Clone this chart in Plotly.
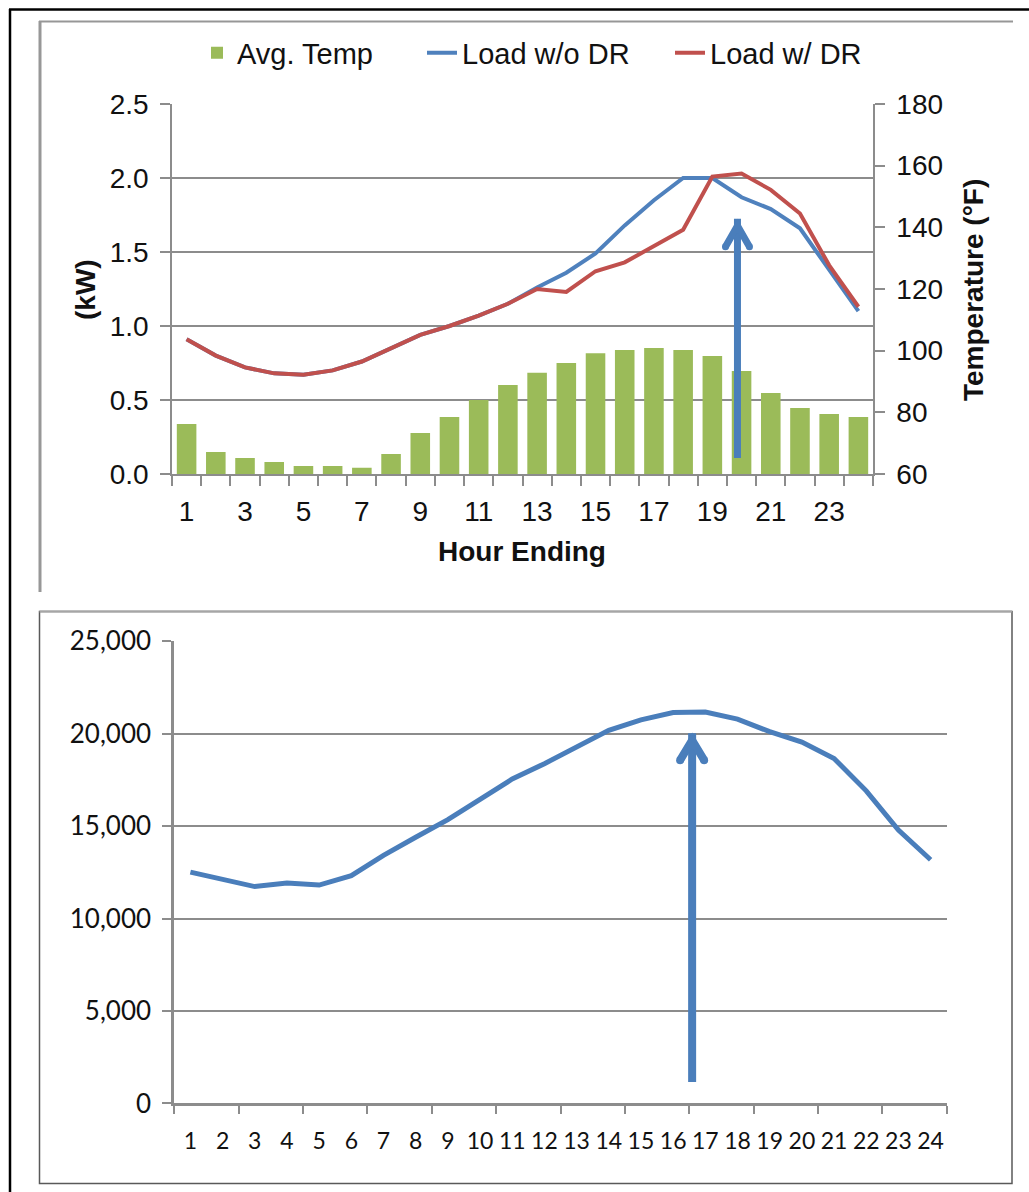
import plotly.graph_objects as go

# Hourly values (hour ending 1..24)
hours = list(range(1, 25))
odd_hour_ticks = list(range(1, 24, 2))

# Average temperature (°F), right axis of the upper chart
avg_temp = [76.2, 67.1, 65.2, 63.9, 62.6, 62.6, 62.0, 66.5, 73.3, 78.5, 84.0, 88.9,
            92.8, 96.0, 99.2, 100.2, 100.9, 100.2, 98.3, 93.4, 86.3, 81.4, 79.5, 78.5]

# Household load (kW) with and without demand response
load_without_dr = [0.91, 0.80, 0.72, 0.68, 0.67, 0.70, 0.76, 0.85, 0.94, 1.00, 1.07, 1.15,
                   1.26, 1.36, 1.49, 1.68, 1.85, 2.00, 2.00, 1.87, 1.79, 1.66, 1.38, 1.10]
load_with_dr = [0.91, 0.80, 0.72, 0.68, 0.67, 0.70, 0.76, 0.85, 0.94, 1.00, 1.07, 1.15,
                1.25, 1.23, 1.37, 1.43, 1.54, 1.65, 2.01, 2.03, 1.92, 1.76, 1.41, 1.13]

# System load, lower chart
system_load = [12510, 12150, 11730, 11920, 11810, 12320, 13420, 14400, 15350, 16450, 17550, 18380,
               19300, 20180, 20750, 21150, 21170, 20790, 20110, 19550, 18660, 16910, 14790, 13180]

# Peak markers (arrow positions)
top_arrow_hour, top_arrow_low, top_arrow_tip = 19.86, 0.108, 1.772
bottom_arrow_hour, bottom_arrow_low, bottom_arrow_tip = 16.59, 1160, 20180

W, H = 1029, 1192


def fx(px):
    return px / W


def fy(py):
    return 1 - py / H


GREEN = "#9BBB59"
BLUE = "#4F81BD"
RED = "#C0504D"
ARROW = "#4A7EBB"
GRID = "#8C8C8C"
TOP_FONT = "Liberation Sans, Arial, sans-serif"
BOTTOM_FONT = "Lato, Calibri, sans-serif"

fig = go.Figure()

fig.add_trace(go.Bar(x=hours, y=avg_temp, name="Avg. Temp",
                     marker=dict(color=GREEN, line=dict(width=0)),
                     xaxis="x", yaxis="y", legend="legend"))
fig.add_trace(go.Scatter(x=hours, y=load_without_dr, name="Load w/o DR", mode="lines",
                         line=dict(color=BLUE, width=4),
                         xaxis="x", yaxis="y2", legend="legend2"))
fig.add_trace(go.Scatter(x=hours, y=load_with_dr, name="Load w/ DR", mode="lines",
                         line=dict(color=RED, width=4),
                         xaxis="x", yaxis="y2", legend="legend3"))
fig.add_trace(go.Scatter(x=hours, y=system_load, mode="lines", showlegend=False,
                         line=dict(color=ARROW, width=5),
                         xaxis="x2", yaxis="y3"))

top_tick_font = dict(family=TOP_FONT, size=28, color="#111111")
bottom_ytick_font = dict(family=BOTTOM_FONT, size=26, color="#111111")
bottom_xtick_font = dict(family=BOTTOM_FONT, size=23, color="#111111")

fig.update_layout(
    width=W, height=H,
    margin=dict(l=0, r=0, t=0, b=0, autoexpand=False),
    paper_bgcolor="white", plot_bgcolor="white",
    bargap=0.33,
    xaxis=dict(domain=[fx(172), fx(873)], anchor="y", range=[0.5, 24.5],
               tickmode="array", tickvals=odd_hour_ticks, ticks="",
               tickfont=top_tick_font, ticklabelstandoff=12,
               showline=True, linecolor=GRID, linewidth=1.5, showgrid=False, zeroline=False,
               minor=dict(tickmode="array", tickvals=[h + 0.5 for h in range(0, 25)],
                          ticks="outside", ticklen=10, tickwidth=1.5, tickcolor=GRID)),
    yaxis=dict(domain=[fy(474), fy(104)], anchor="x", side="right", range=[60, 180],
               tick0=60, dtick=20, ticks="outside", ticklen=10, tickwidth=1.5, tickcolor=GRID,
               tickfont=top_tick_font, ticklabelstandoff=6,
               showline=True, linecolor=GRID, linewidth=1.5, showgrid=False, zeroline=False),
    yaxis2=dict(overlaying="y", anchor="x", side="left", range=[0, 2.5],
                tick0=0, dtick=0.5, tickformat=".1f", ticks="outside", ticklen=10,
                tickwidth=1.5, tickcolor=GRID, tickfont=top_tick_font, ticklabelstandoff=6,
                showline=True, linecolor=GRID, linewidth=1.5,
                showgrid=True, gridcolor=GRID, gridwidth=1.5, zeroline=False),
    xaxis2=dict(domain=[fx(174.3), fx(946.7)], anchor="y3", range=[0.5, 24.5],
                tickmode="array", tickvals=hours, ticks="",
                tickfont=bottom_xtick_font, ticklabelstandoff=15,
                showline=True, linecolor=GRID, linewidth=2.5, showgrid=False, zeroline=False,
                minor=dict(tickmode="array", tickvals=[h + 0.5 for h in range(0, 25, 2)],
                           ticks="outside", ticklen=8, tickwidth=2, tickcolor=GRID)),
    yaxis3=dict(domain=[fy(1103.4), fy(641.3)], anchor="x2", range=[0, 25000],
                tick0=0, dtick=5000, tickformat=",d", ticks="outside", ticklen=9,
                tickwidth=2, tickcolor=GRID, tickfont=bottom_ytick_font, ticklabelstandoff=6,
                showline=True, linecolor=GRID, linewidth=3,
                showgrid=True, gridcolor=GRID, gridwidth=2, zeroline=False),
)

legend_common = dict(orientation="h", yanchor="middle", xanchor="left",
                     font=dict(family=TOP_FONT, size=29, color="#111111"),
                     bgcolor="rgba(0,0,0,0)", borderwidth=0)
fig.update_layout(
    legend=dict(x=fx(197), y=fy(53), **legend_common),
    legend2=dict(x=fx(422), y=fy(53), **legend_common),
    legend3=dict(x=fx(670), y=fy(53), **legend_common),
)

title_font = dict(family=TOP_FONT, size=28, color="#111111")
for text, x, y, angle in [("<b>(kW)</b>", 85, 290, -90),
                          ("<b>Temperature (°F)</b>", 973, 290, -90),
                          ("<b>Hour Ending</b>", 522, 551, 0)]:
    fig.add_annotation(text=text, x=fx(x), y=fy(y), xref="paper", yref="paper",
                       xanchor="center", yanchor="middle", textangle=angle,
                       showarrow=False, font=title_font)

shapes = []
# Page frames
shapes.append(dict(type="line", xref="paper", yref="paper", x0=fx(9), x1=1, y0=fy(9.5), y1=fy(9.5),
                   line=dict(color="black", width=2.5)))
shapes.append(dict(type="line", xref="paper", yref="paper", x0=fx(10), x1=fx(10), y0=fy(9), y1=0,
                   line=dict(color="black", width=2.5)))
shapes.append(dict(type="line", xref="paper", yref="paper", x0=fx(39), x1=fx(1013), y0=fy(21.5), y1=fy(21.5),
                   line=dict(color="#979797", width=2)))
shapes.append(dict(type="line", xref="paper", yref="paper", x0=fx(40), x1=fx(40), y0=fy(21), y1=fy(592),
                   line=dict(color="#979797", width=3)))
shapes.append(dict(type="rect", xref="paper", yref="paper", x0=fx(39.5), x1=fx(1012), y0=fy(1183.5), y1=fy(611.5),
                   line=dict(color="#595959", width=1.5)))
shapes.append(dict(type="line", xref="paper", yref="paper", x0=fx(39.5), x1=fx(1012), y0=fy(611.5), y1=fy(611.5),
                   line=dict(color="#A6A6A6", width=2)))


def arrow(xref, yref, xpos, low, tip, width, half, drop):
    out = []
    out.append(dict(type="line", xref=xref, yref=yref, x0=xpos, x1=xpos, y0=low, y1=tip,
                    line=dict(color=ARROW, width=width)))
    out.append(dict(type="path", xref=xref, yref=yref, xsizemode="pixel", ysizemode="pixel",
                    xanchor=xpos, yanchor=tip,
                    path=f"M{-half},{-drop} L0,-7 L{half},{-drop}",
                    line=dict(color=ARROW, width=width)))
    r = width / 2
    for sx in (-half, half):
        out.append(dict(type="circle", xref=xref, yref=yref, xsizemode="pixel", ysizemode="pixel",
                        xanchor=xpos, yanchor=tip, x0=sx - r, x1=sx + r, y0=-drop - r, y1=-drop + r,
                        fillcolor=ARROW, line=dict(width=0)))
    return out


shapes += arrow("x", "y2", top_arrow_hour, top_arrow_low, top_arrow_tip - 0.047, 7, 12, 28)
shapes += arrow("x2", "y3", bottom_arrow_hour, bottom_arrow_low, bottom_arrow_tip - 150, 8, 12, 27)

fig.update_layout(shapes=shapes)

fig.write_html("out.html")
